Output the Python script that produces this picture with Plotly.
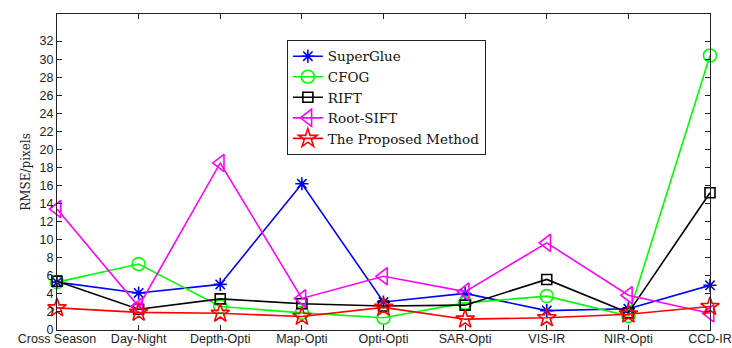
import plotly.graph_objects as go

categories = ["Cross Season", "Day-Night", "Depth-Opti", "Map-Opti", "Opti-Opti",
              "SAR-Opti", "VIS-IR", "NIR-Opti", "CCD-IR"]

superglue = [5.3, 4.1, 5.05, 16.2, 3.1, 4.05, 2.15, 2.35, 4.95]
cfog = [5.3, 7.3, 2.6, 1.9, 1.35, 3.0, 3.75, 1.55, 30.4]
rift = [5.4, 2.3, 3.45, 2.9, 2.65, 2.75, 5.6, 1.9, 15.2]
root_sift = [13.4, 2.6, 18.5, 3.5, 5.95, 4.25, 9.65, 3.85, 1.85]
proposed = [2.45, 1.95, 1.85, 1.5, 2.5, 1.2, 1.35, 1.75, 2.6]

y_ticks = list(range(0, 33, 2))

series = [
    ("SuperGlue", superglue, "#0000FF", "asterisk-open", 11),
    ("CFOG", cfog, "#00FF00", "circle-open", 13),
    ("RIFT", rift, "#000000", "square-open", 10),
    ("Root-SIFT", root_sift, "#FF00FF", "triangle-left-open", 15),
    ("The Proposed Method", proposed, "#FF0000", "star-open", 14),
]

fig = go.Figure()
for i, (name, vals, color, symbol, size) in enumerate(series):
    fig.add_trace(go.Scatter(
        x=list(range(len(categories))), y=vals, name=name,
        mode="lines+markers",
        line=dict(color=color, width=1.6),
        marker=dict(symbol=symbol, size=size, color=color,
                    line=dict(color=color, width=1.6)),
        cliponaxis=False,
    ))

axis_common = dict(
    showline=True, linecolor="#222", linewidth=1, mirror="ticks",
    ticks="inside", ticklen=5, tickcolor="#222", showgrid=False, zeroline=False,
    automargin=False, ticklabeloverflow="allow",
    tickfont=dict(family="Liberation Sans, Arial", size=12.5, color="#222"),
)

fig.update_layout(
    width=732, height=348,
    margin=dict(l=57, r=22, t=14, b=18),
    paper_bgcolor="white", plot_bgcolor="white",
    xaxis=dict(range=[0, 8], tickvals=list(range(len(categories))),
               ticktext=categories, ticklabelstandoff=-3, **axis_common),
    yaxis=dict(range=[0, 35], tickvals=y_ticks,
               title=dict(text="RMSE/pixels", standoff=6,
                          font=dict(family="DejaVu Serif", size=12, color="#222")),
               **axis_common),
    legend=dict(x=0.352, y=0.918, xanchor="left", yanchor="top",
                bgcolor="white", bordercolor="#222", borderwidth=1,
                font=dict(family="DejaVu Serif", size=13.5, color="#111"),
                itemwidth=30),
    showlegend=True,
)

fig.write_html("out.html")
